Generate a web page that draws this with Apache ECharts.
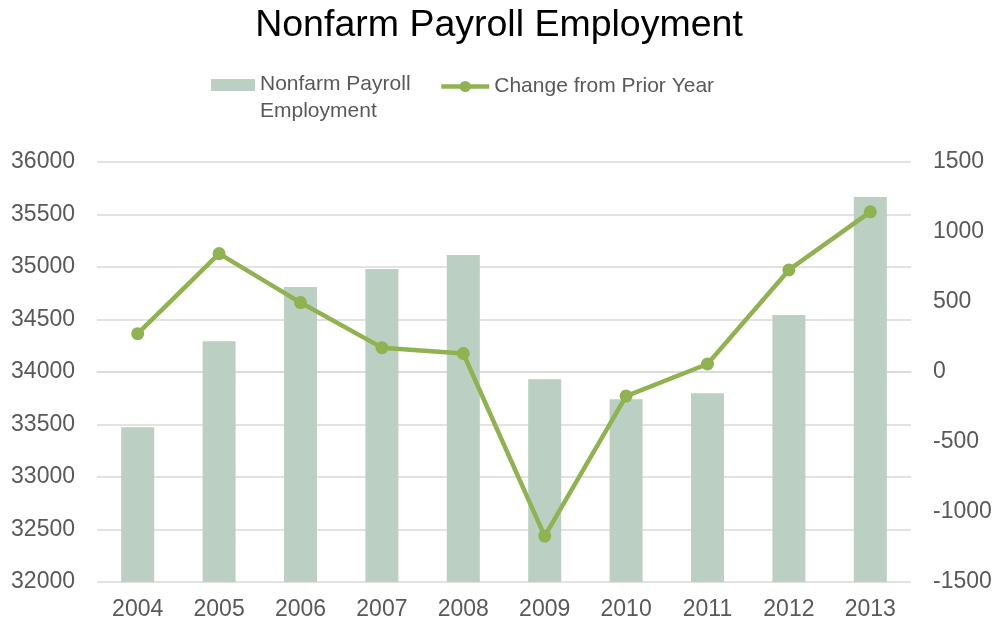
<!DOCTYPE html>
<html>
<head>
<meta charset="utf-8">
<script src="https://cdn.jsdelivr.net/npm/echarts@6/dist/echarts.min.js"></script>
<style>html,body{margin:0;padding:0;background:#fff;}#c{width:998px;height:625px;}</style>
</head>
<body>
<div id="c"></div>
<script>
const years = ['2004','2005','2006','2007','2008','2009','2010','2011','2012','2013'];
const employment = [33474, 34294, 34809, 34980, 35114, 33932, 33741, 33798, 34542, 35666];
const change = [274, 846, 496, 174, 132, -1172, -172, 57, 729, 1144];
const barName = 'Nonfarm Payroll\nEmployment';
const lineName = 'Change from Prior Year';

const font = 'Liberation Sans, Arial, sans-serif';
const plain = v => String(v);
const chart = echarts.init(document.getElementById('c'));
chart.setOption({
  animation: false,
  backgroundColor: '#fff',
  title: {
    text: 'Nonfarm Payroll Employment',
    left: 'center', top: 2,
    textStyle: {fontFamily: font, fontSize: 37.5, fontWeight: 'normal', color: '#000'}
  },
  legend: [{
    data: [{name: barName, icon: 'path://M0,0H44V12H0Z M0,38'}],
    left: 211, top: 71, padding: 0,
    itemWidth: 44, itemHeight: 38,
    textStyle: {fontFamily: font, fontSize: 21, color: '#595959', lineHeight: 27}
  }, {
    data: [{name: lineName}],
    left: 439, top: 76, padding: 0,
    itemWidth: 48, itemHeight: 14,
    lineStyle: {width: 4.5, color: '#8fb350'},
    itemStyle: {color: '#8fb350'},
    textStyle: {fontFamily: font, fontSize: 21, color: '#595959'}
  }],
  grid: {left: 97, right: 87, top: 162, bottom: 43},
  xAxis: {
    type: 'category', data: years,
    axisLine: {lineStyle: {color: '#d9d9d9', width: 1.5}},
    axisTick: {show: false},
    axisLabel: {fontFamily: font, fontSize: 23, color: '#595959', margin: 16}
  },
  yAxis: [{
    type: 'value', min: 32000, max: 36000, interval: 500,
    axisLine: {show: false}, axisTick: {show: false},
    splitLine: {lineStyle: {color: '#d9d9d9', width: 1.5}},
    axisLabel: {fontFamily: font, fontSize: 23, color: '#595959', margin: 22, formatter: plain}
  }, {
    type: 'value', min: -1500, max: 1500, interval: 500,
    axisLine: {show: false}, axisTick: {show: false},
    splitLine: {show: false},
    axisLabel: {fontFamily: font, fontSize: 23, color: '#595959', margin: 22, formatter: plain}
  }],
  series: [{
    name: barName, type: 'bar', data: employment, barWidth: 33,
    itemStyle: {color: '#bbcfc3'}
  }, {
    name: lineName, type: 'line', yAxisIndex: 1, data: change,
    symbol: 'circle', symbolSize: 13,
    lineStyle: {color: '#8fb350', width: 4.5},
    itemStyle: {color: '#8fb350'}
  }]
});
</script>
</body>
</html>
